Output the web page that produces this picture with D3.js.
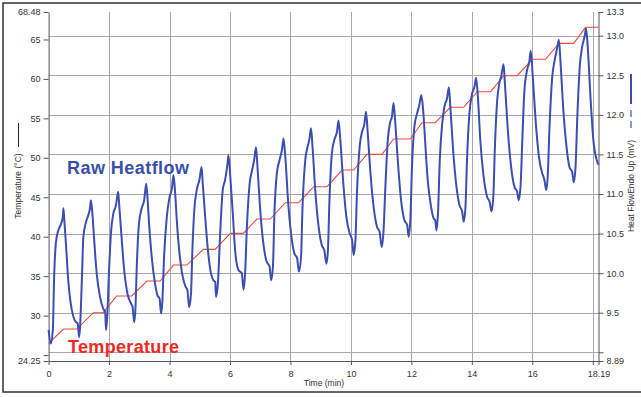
<!DOCTYPE html>
<html>
<head>
<meta charset="utf-8">
<script src="https://cdn.jsdelivr.net/npm/d3@7"></script>
<style>
  html, body { margin: 0; padding: 0; background: #fff; }
  svg { display: block; font-family: Arial, "Liberation Sans", sans-serif; }
</style>
</head>
<body>
<div id="chart"></div>
<script>
// temperature program (stair steps), time in min, temperature in °C
const tempTime = [0, 0.49, 0.93, 1.48, 1.81, 2.25, 2.75, 3.25, 3.69, 4.13, 4.57, 5.12, 5.51, 6.01, 6.44, 6.89, 7.33, 7.83, 8.27, 8.77, 9.21,
  9.71, 10.09, 10.53, 11.03, 11.41, 11.97, 12.35, 12.79, 13.29, 13.73, 14.18, 14.62, 15.06, 15.5, 16.0, 16.44, 16.88, 17.37, 17.76, 18.19];
const tempValue = [26.49, 28.30, 28.30, 30.37, 30.37, 32.49, 32.49, 34.39, 34.39, 36.41, 36.41, 38.40, 38.40, 40.43, 40.43, 42.24, 42.24,
  44.31, 44.31, 46.34, 46.34, 48.45, 48.45, 50.44, 50.44, 52.38, 52.38, 54.45, 54.45, 56.40, 56.40, 58.38, 58.38, 60.41, 60.41,
  62.49, 62.49, 64.51, 64.51, 66.54, 66.54];

// raw heat flow, time in min, heat flow in mV
const flowTime = [
  0, 0.07, 0.14, 0.18, 0.24, 0.32, 0.40, 0.47, 0.49, 0.52, 0.58, 0.65, 0.73, 0.82, 0.91, 0.96, 1.01, 1.04, 1.10,
  1.15, 1.24, 1.31, 1.37, 1.40, 1.45, 1.50, 1.59, 1.70, 1.81, 1.87, 1.90, 1.94, 2.00,
  2.07, 2.14, 2.23, 2.30, 2.34, 2.42, 2.50, 2.61, 2.72, 2.78, 2.83, 2.87, 2.92,
  2.99, 3.08, 3.16, 3.23, 3.27, 3.33, 3.41, 3.52, 3.60, 3.67, 3.72, 3.76, 3.82,
  3.91, 4.00, 4.08, 4.13, 4.18, 4.24, 4.33, 4.44, 4.53, 4.59, 4.65, 4.71, 4.76,
  4.82, 4.90, 4.99, 5.06, 5.10, 5.18, 5.27, 5.37, 5.45, 5.51, 5.54, 5.60, 5.68,
  5.76, 5.84, 5.92, 5.95, 6.01, 6.10, 6.17, 6.28, 6.39, 6.45, 6.50, 6.56,
  6.65, 6.73, 6.80, 6.86, 6.91, 7.00, 7.09, 7.20, 7.31, 7.36, 7.42, 7.47,
  7.55, 7.64, 7.72, 7.77, 7.83, 7.92, 8.02, 8.13, 8.22, 8.28, 8.35, 8.40,
  8.49, 8.57, 8.63, 8.68, 8.73, 8.82, 8.93, 9.04, 9.12, 9.19, 9.24, 9.29,
  9.37, 9.45, 9.54, 9.59, 9.65, 9.74, 9.85, 9.96, 10.04, 10.09, 10.15, 10.20,
  10.29, 10.37, 10.44, 10.50, 10.55, 10.64, 10.75, 10.86, 10.95, 11.02, 11.08, 11.14,
  11.22, 11.30, 11.36, 11.41, 11.47, 11.55, 11.66, 11.77, 11.86, 11.91, 11.97, 12.02,
  12.10, 12.19, 12.26, 12.33, 12.39, 12.46, 12.54, 12.65, 12.74, 12.79, 12.83, 12.88, 12.94,
  13.02, 13.09, 13.18, 13.24, 13.29, 13.38, 13.48, 13.59, 13.68, 13.73, 13.79, 13.84,
  13.92, 14.01, 14.09, 14.14, 14.20, 14.28, 14.39, 14.51, 14.59, 14.65, 14.71, 14.76,
  14.84, 14.91, 14.98, 15.05, 15.10, 15.19, 15.30, 15.41, 15.50, 15.55, 15.61, 15.67,
  15.74, 15.83, 15.90, 15.95, 16.01, 16.11, 16.22, 16.33, 16.40, 16.46, 16.51, 16.57,
  16.66, 16.74, 16.82, 16.88, 16.93, 17.02, 17.12, 17.23, 17.32, 17.37, 17.43, 17.49,
  17.57, 17.65, 17.73, 17.78, 17.84, 17.93, 18.02, 18.13, 18.19
];
const flowValue = [
  9.28, 9.11, 9.28, 9.91, 10.38, 10.54, 10.61, 10.71, 10.82, 10.67, 10.33, 9.91, 9.62, 9.45, 9.38, 9.37, 9.19, 9.32, 9.91,
  10.46, 10.65, 10.73, 10.82, 10.92, 10.75, 10.46, 10.00, 9.70, 9.55, 9.51, 9.28, 9.45, 10.04,
  10.54, 10.75, 10.86, 11.03, 10.84, 10.42, 10.04, 9.74, 9.62, 9.57, 9.38, 9.53, 10.12,
  10.63, 10.82, 10.92, 11.13, 10.96, 10.59, 10.21, 9.87, 9.72, 9.68, 9.49, 9.62, 10.21,
  10.71, 10.96, 11.07, 11.24, 11.05, 10.67, 10.25, 9.95, 9.83, 9.79, 9.57, 9.74, 10.33,
  10.80, 11.05, 11.18, 11.34, 11.13, 10.71, 10.29, 10.00, 9.91, 9.89, 9.70, 9.87, 10.54,
  11.05, 11.18, 11.39, 11.49, 11.22, 10.71, 10.29, 10.04, 10.00, 9.79, 10.00, 10.59,
  11.13, 11.30, 11.43, 11.59, 11.34, 10.80, 10.42, 10.16, 10.08, 9.91, 10.08, 10.75,
  11.26, 11.43, 11.56, 11.70, 11.47, 10.92, 10.50, 10.25, 10.19, 10.02, 10.21, 10.84,
  11.43, 11.60, 11.70, 11.83, 11.60, 11.05, 10.59, 10.35, 10.29, 10.12, 10.29, 10.92,
  11.51, 11.68, 11.79, 11.93, 11.68, 11.18, 10.71, 10.50, 10.42, 10.23, 10.42, 11.01,
  11.60, 11.79, 11.87, 12.04, 11.81, 11.30, 10.84, 10.59, 10.52, 10.33, 10.54, 11.09,
  11.68, 11.91, 11.98, 12.15, 11.89, 11.43, 10.92, 10.67, 10.61, 10.46, 10.71, 11.34,
  11.85, 12.02, 12.12, 12.25, 12.06, 11.64, 11.18, 10.84, 10.69, 10.67, 10.54, 10.75, 11.43,
  11.89, 12.10, 12.21, 12.35, 12.10, 11.56, 11.13, 10.86, 10.78, 10.65, 10.84, 11.43,
  12.02, 12.27, 12.36, 12.47, 12.23, 11.68, 11.22, 10.96, 10.90, 10.78, 10.96, 11.56,
  12.19, 12.40, 12.50, 12.64, 12.36, 11.81, 11.34, 11.09, 11.03, 10.92, 11.09, 11.68,
  12.31, 12.57, 12.67, 12.81, 12.52, 11.93, 11.47, 11.26, 11.18, 11.05, 11.22, 11.85,
  12.48, 12.69, 12.84, 12.95, 12.69, 12.10, 11.64, 11.34, 11.28, 11.15, 11.34, 11.98,
  12.61, 12.86, 12.99, 13.09, 12.82, 12.19, 11.68, 11.43, 11.37
];

// axis ticks
const timeTicks = [0, 2, 4, 6, 8, 10, 12, 14, 16, 18, 18.19];
const timeLabels = ['0', '2', '4', '6', '8', '10', '12', '14', '16', '', '18.19'];
const tempTicks = [24.25, 25, 30, 35, 40, 45, 50, 55, 60, 65, 68.48];
const tempLabels = ['24.25', '', '30', '35', '40', '45', '50', '55', '60', '65', '68.48'];
const flowTicks = [8.89, 9.0, 9.5, 10.0, 10.5, 11.0, 11.5, 12.0, 12.5, 13.0, 13.3];
const flowLabels = ['8.89', '', '9.5', '10.0', '10.5', '11.0', '11.5', '12.0', '12.5', '13.0', '13.3'];
const gridTime = [2, 4, 6, 8, 10, 12, 14, 16, 18];
const gridFlow = [9.0, 9.5, 10.0, 10.5, 11.0, 11.5, 12.0, 12.5, 13.0];

const W = 641, H = 397;
const plot = { left: 48.6, right: 598.5, top: 12, bottom: 361 };

const svg = d3.select('#chart').append('svg')
  .attr('width', W)
  .attr('height', H);

const x = d3.scaleLinear().domain([0, 18.19]).range([plot.left, plot.right]);
const yT = d3.scaleLinear().domain([24.25, 68.48]).range([plot.bottom, plot.top]);
const yH = d3.scaleLinear().domain([8.89, 13.3]).range([plot.bottom, plot.top]);

// grid
svg.append('g').selectAll('line').data(gridFlow).join('line')
  .attr('x1', plot.left).attr('x2', plot.right)
  .attr('y1', d => Math.round(yH(d)) + 0.5).attr('y2', d => Math.round(yH(d)) + 0.5)
  .attr('stroke', '#a8a8a8').attr('stroke-width', 1);
svg.append('g').selectAll('line').data(gridTime).join('line')
  .attr('x1', d => Math.round(x(d)) + 0.5).attr('x2', d => Math.round(x(d)) + 0.5)
  .attr('y1', plot.top).attr('y2', plot.bottom)
  .attr('stroke', '#a8a8a8').attr('stroke-width', 1);

// axes
function styleAxis(g) {
  g.select('.domain').attr('stroke', '#555');
  g.selectAll('.tick line').attr('stroke', '#555');
  g.selectAll('.tick text').attr('fill', '#333').attr('font-size', 9);
}
svg.append('g')
  .attr('transform', `translate(0,${plot.bottom})`)
  .call(d3.axisBottom(x).tickValues(timeTicks).tickSize(4).tickSizeOuter(0)
    .tickFormat((d, i) => timeLabels[i]))
  .call(styleAxis)
  .call(g => g.selectAll('.tick text').attr('dy', '0.95em'));
svg.append('g')
  .attr('transform', `translate(${plot.left},0)`)
  .call(d3.axisLeft(yT).tickValues(tempTicks).tickSize(5).tickSizeOuter(0)
    .tickFormat((d, i) => tempLabels[i]))
  .call(styleAxis);
svg.append('g')
  .attr('transform', `translate(${plot.right},0)`)
  .call(d3.axisRight(yH).tickValues(flowTicks).tickSize(5).tickSizeOuter(0)
    .tickFormat((d, i) => flowLabels[i]))
  .call(styleAxis);

// series
const tempLine = d3.line().x(d => x(d[0])).y(d => yT(d[1]));
const flowLine = d3.line().x(d => x(d[0])).y(d => yH(d[1])).curve(d3.curveMonotoneX);

svg.append('path')
  .datum(d3.zip(tempTime, tempValue))
  .attr('fill', 'none')
  .attr('stroke', '#f04a3a')
  .attr('stroke-width', 1.1)
  .attr('d', tempLine);

svg.append('path')
  .datum(d3.zip(flowTime, flowValue))
  .attr('fill', 'none')
  .attr('stroke', '#3b4fb3')
  .attr('stroke-width', 2)
  .attr('stroke-linejoin', 'round')
  .attr('d', flowLine);

// axis titles
svg.append('text')
  .attr('x', 324).attr('y', 386)
  .attr('text-anchor', 'middle')
  .attr('font-size', 8.5).attr('fill', '#333')
  .text('Time (min)');

svg.append('text')
  .attr('transform', 'translate(21,186) rotate(-90)')
  .attr('text-anchor', 'middle')
  .attr('font-size', 8.5).attr('fill', '#333')
  .text('Temperature (°C)');
svg.append('line')
  .attr('x1', 18.5).attr('x2', 18.5).attr('y1', 123).attr('y2', 147)
  .attr('stroke', '#222').attr('stroke-width', 1);

svg.append('text')
  .attr('transform', 'translate(634,186) rotate(-90)')
  .attr('text-anchor', 'middle')
  .attr('font-size', 8.5).attr('fill', '#333')
  .text('Heat FlowEndo Up (mV)');
svg.append('line')
  .attr('x1', 631).attr('x2', 631).attr('y1', 74).attr('y2', 104)
  .attr('stroke', '#3b4fb3').attr('stroke-width', 2);
svg.append('line')
  .attr('x1', 631).attr('x2', 631).attr('y1', 110).attr('y2', 128)
  .attr('stroke', '#8a96d6').attr('stroke-width', 2)
  .attr('stroke-dasharray', '7,4');

// annotations
svg.append('text')
  .attr('x', 67).attr('y', 174)
  .attr('font-size', 18).attr('font-weight', 'bold').attr('fill', '#3a4fa8')
  .attr('textLength', 122)
  .text('Raw Heatflow');
svg.append('text')
  .attr('x', 68).attr('y', 353)
  .attr('font-size', 18).attr('font-weight', 'bold').attr('fill', '#ee2a22')
  .attr('textLength', 111)
  .text('Temperature');

// outer frame
svg.append('rect')
  .attr('x', 3).attr('y', 3).attr('width', 700).attr('height', 389)
  .attr('fill', 'none').attr('stroke', '#333').attr('stroke-width', 1.5);
</script>
</body>
</html>
